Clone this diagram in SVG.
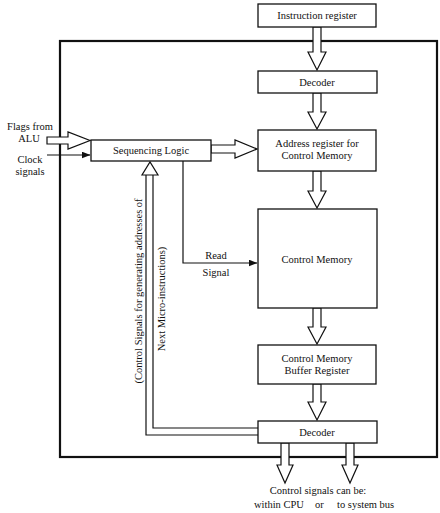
<svg xmlns="http://www.w3.org/2000/svg" width="440" height="513" viewBox="0 0 440 513">
<defs>
<style>
text{font-family:"Liberation Serif","Times New Roman",serif;font-size:10.5px;fill:#111;}
.c{text-anchor:middle;}
.box{fill:#fff;stroke:#111;stroke-width:1.3;}
.frame{fill:none;stroke:#111;stroke-width:2.2;}
.hol{fill:#fff;stroke:#111;stroke-width:1.2;stroke-linejoin:miter;}
.ln{fill:none;stroke:#111;stroke-width:1.2;}
</style>
<marker id="ah" markerWidth="9" markerHeight="7" refX="8.5" refY="3.5" orient="auto" markerUnits="userSpaceOnUse">
<path d="M0,0 L9,3.5 L0,7 Z" fill="#111"/>
</marker>
</defs>
<rect width="440" height="513" fill="#fff"/>
<rect class="frame" x="60" y="41" width="377" height="416"/>

<g id="connectors">
<polygon class="hol" points="313,27 321,27 321,52 326,52 317,70 308,52 313,52"/>
<polygon class="hol" points="313,93 321,93 321,112 326,112 317,129 308,112 313,112"/>
<polygon class="hol" points="313,171 321,171 321,191 326,191 317,208 308,191 313,191"/>
<polygon class="hol" points="313,308 321,308 321,327 326,327 317,344 308,327 313,327"/>
<polygon class="hol" points="313,384 321,384 321,402 326,402 317,420 308,402 313,402"/>
<polygon class="hol" points="281,443 289,443 289,465 293,465 285,483 277,465 281,465"/>
<polygon class="hol" points="346,443 354,443 354,465 358,465 350,483 342,465 346,465"/>
<polygon class="hol" points="47,137 68,137 68,132 90,140.5 68,149 68,144 47,144"/>
<line class="ln" x1="47" y1="155" x2="90" y2="155" marker-end="url(#ah)"/>
<polygon class="hol" points="211,145 235,145 235,140 257,149 235,158 235,153 211,153"/>
<polyline class="ln" points="183,161 183,263 257,263" marker-end="url(#ah)"/>
<polyline class="ln" points="146,175 146,435 258,435"/>
<polyline class="ln" points="153,175 153,428 258,428"/>
<polygon class="hol" points="146,175 142,175 150,162 158,175 153,175"/>
</g>

<g id="instruction-register">
<rect class="box" x="258" y="4" width="118" height="23"/>
<text class="c" x="317" y="19">Instruction register</text>
</g>
<g id="decoder1">
<rect class="box" x="258" y="71" width="119" height="22"/>
<text class="c" x="317" y="86">Decoder</text>
</g>
<g id="address-register">
<rect class="box" x="258" y="130" width="118" height="41"/>
<text class="c" x="317" y="147">Address register for</text>
<text class="c" x="317" y="159">Control Memory</text>
</g>
<g id="sequencing-logic">
<rect class="box" x="91" y="140" width="120" height="21"/>
<text class="c" x="151" y="154">Sequencing Logic</text>
</g>
<g id="control-memory">
<rect class="box" x="258" y="209" width="119" height="99"/>
<text class="c" x="317" y="263">Control Memory</text>
</g>
<g id="buffer-register">
<rect class="box" x="258" y="345" width="118" height="39"/>
<text class="c" x="317" y="362">Control Memory</text>
<text class="c" x="317" y="374">Buffer Register</text>
</g>
<g id="decoder2">
<rect class="box" x="258" y="421" width="119" height="22"/>
<text class="c" x="317" y="436">Decoder</text>
</g>

<g id="labels">
<text class="c" x="30" y="130">Flags from</text>
<text class="c" x="29" y="142">ALU</text>
<text class="c" x="30" y="163">Clock</text>
<text class="c" x="30" y="175">signals</text>
<text class="c" x="216" y="259">Read</text>
<text class="c" x="216" y="276">Signal</text>
<text class="c" transform="translate(142,291) rotate(-90)">(Control Signals for generating addresses of</text>
<text class="c" transform="translate(165,299) rotate(-90)">Next Micro-instructions)</text>
<text class="c" x="318" y="494">Control signals can be:</text>
<text x="254" y="508">within CPU</text>
<text x="315" y="508">or</text>
<text x="337" y="508">to system bus</text>
</g>
</svg>
